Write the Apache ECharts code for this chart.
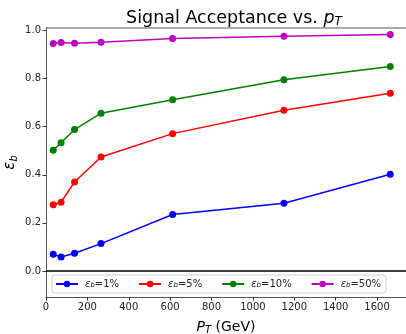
<!DOCTYPE html>
<html>
<head>
<meta charset="utf-8">
<script src="https://cdn.jsdelivr.net/npm/echarts@6/dist/echarts.min.js"></script>
<style>html,body{margin:0;padding:0;background:#fff;}#c{width:406px;height:334px;}</style>
</head>
<body>
<div id="c"></div>
<script>
const ptValues = [35, 73, 138, 266, 612, 1150, 1664];
const eff1 = [0.070, 0.058, 0.074, 0.114, 0.235, 0.282, 0.402];
const eff5 = [0.275, 0.286, 0.370, 0.474, 0.571, 0.668, 0.739];
const eff10 = [0.502, 0.533, 0.588, 0.656, 0.712, 0.795, 0.850];
const eff50 = [0.946, 0.950, 0.947, 0.951, 0.966, 0.976, 0.983];
const seriesLabels = ['1%', '5%', '10%', '50%'];
const seriesColors = ['#0000ff', '#ff0000', '#008000', '#bf00bf'];
const yTicks = [0, 0.2, 0.4, 0.6, 0.8, 1.0];
const xTicks = [0, 200, 400, 600, 800, 1000, 1200, 1400, 1600];

const FONT = 'DejaVu Sans';
const allData = [eff1, eff5, eff10, eff50];
const series = allData.map((d, i) => ({
  name: 'eb=' + seriesLabels[i],
  type: 'line',
  data: d.map((v, j) => [ptValues[j], v]),
  color: seriesColors[i],
  symbol: 'circle',
  symbolSize: 7,
  lineStyle: {width: 1.5, color: seriesColors[i]},
  itemStyle: {color: seriesColors[i]},
  emphasis: {disabled: true},
  animation: false,
  z: 3
}));
series[0].markLine = {
  silent: true, symbol: 'none', animation: false,
  label: {show: false},
  lineStyle: {color: '#000', width: 1.5, type: 'solid'},
  data: [{yAxis: 0}]
};

const chart = echarts.init(document.getElementById('c'), null, {renderer: 'canvas'});
chart.setOption({
  backgroundColor: '#fff',
  animation: false,
  textStyle: {fontFamily: FONT},
  title: {
    text: '{a|Signal Acceptance vs. }{i|p}{s|T}',
    left: 229, top: 3, textAlign: 'center',
    textStyle: {
      fontWeight: 'normal',
      rich: {
        a: {fontFamily: FONT, fontSize: 17.5, fontWeight: 'normal', color: '#000', lineHeight: 20},
        i: {fontFamily: FONT, fontSize: 17.5, fontWeight: 'normal', fontStyle: 'italic', color: '#000', lineHeight: 20},
        s: {fontFamily: FONT, fontSize: 12, fontWeight: 'normal', fontStyle: 'italic', color: '#000', verticalAlign: 'bottom', lineHeight: 12}
      }
    }
  },
  grid: {left: 46, right: 0, top: 28, bottom: 37, containLabel: false, outerBoundsMode: 'none'},
  legend: {
    left: 52, top: 275,
    orient: 'horizontal',
    itemWidth: 22, itemHeight: 8, itemGap: 19,
    padding: [4, 5, 4, 3],
    borderColor: '#d0d0d0', borderWidth: 1, borderRadius: 3,
    backgroundColor: 'rgba(255,255,255,0.8)',
    data: series.map(s => s.name),
    formatter: function (name) {
      return '{e|ε}{s|b}{t|' + name.slice(2) + '}';
    },
    textStyle: {
      padding: [0, 0, 0, 2],
      rich: {
        e: {fontFamily: FONT, fontSize: 10, fontStyle: 'italic', color: '#222'},
        s: {fontFamily: FONT, fontSize: 7, fontStyle: 'italic', color: '#222', verticalAlign: 'bottom', lineHeight: 8},
        t: {fontFamily: FONT, fontSize: 10, color: '#222'}
      }
    }
  },
  xAxis: {
    type: 'value', min: 0, max: 1740,
    name: '{i|P}{s|T}{a| (GeV)}',
    nameLocation: 'middle', nameGap: 22,
    nameTextStyle: {
      rich: {
        i: {fontFamily: FONT, fontSize: 14, fontStyle: 'italic', color: '#000', lineHeight: 16},
        s: {fontFamily: FONT, fontSize: 10, fontStyle: 'italic', color: '#000', verticalAlign: 'bottom', lineHeight: 10},
        a: {fontFamily: FONT, fontSize: 14, color: '#000', lineHeight: 16}
      }
    },
    axisLine: {show: true, onZero: false, lineStyle: {color: '#555', width: 1}},
    axisTick: {show: true, length: 3.5, lineStyle: {color: '#333'}, customValues: xTicks},
    axisLabel: {fontFamily: FONT, fontSize: 10, color: '#222', margin: 5, customValues: xTicks,
      formatter: v => String(v)},
    splitLine: {show: false}
  },
  yAxis: {
    type: 'value', min: -0.108, max: 1.01,
    name: '{e|ε}{s|b}',
    nameLocation: 'middle', nameGap: 27, nameRotate: 90,
    nameMoveOverlap: false,
    nameTextStyle: {
      rich: {
        e: {fontFamily: FONT, fontSize: 15, fontStyle: 'italic', color: '#000', lineHeight: 18},
        s: {fontFamily: FONT, fontSize: 10, fontStyle: 'italic', color: '#000', verticalAlign: 'bottom', lineHeight: 10}
      }
    },
    axisLine: {show: true, onZero: false, lineStyle: {color: '#555', width: 1}},
    axisTick: {show: true, length: 3.5, lineStyle: {color: '#333'}, customValues: yTicks},
    axisLabel: {fontFamily: FONT, fontSize: 10, color: '#222', margin: 5, customValues: yTicks,
      formatter: v => v.toFixed(1)},
    splitLine: {show: false}
  },
  series: series,
  graphic: [{
    type: 'line', silent: true, z: 10,
    shape: {x1: 46, y1: 28, x2: 406, y2: 28},
    style: {stroke: '#555', lineWidth: 1}
  }]
});
</script>
</body>
</html>
